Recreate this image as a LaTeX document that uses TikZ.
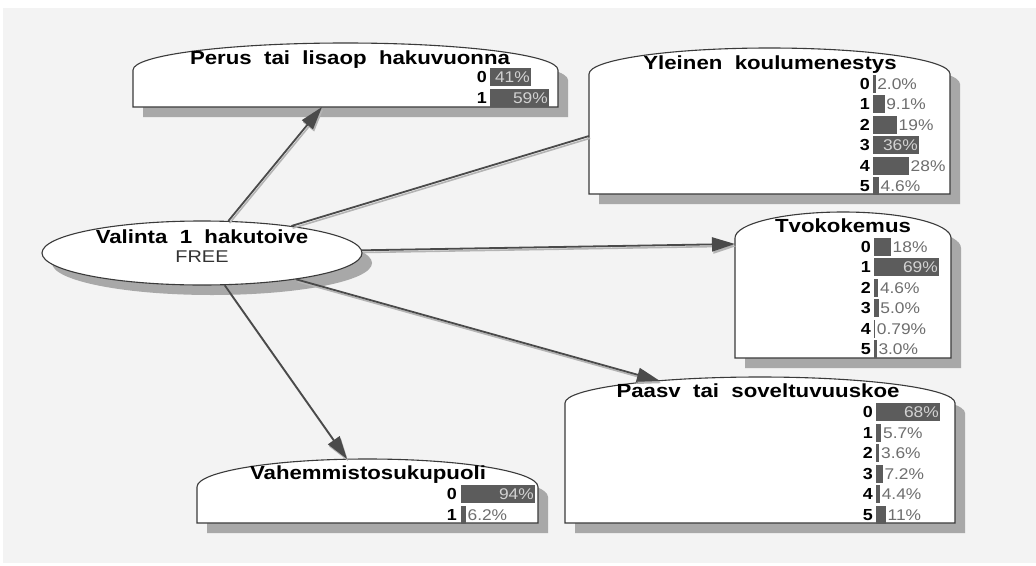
\documentclass[tikz,border=0pt]{standalone}
\usepackage{fontspec}
\setmainfont{Liberation Sans}
\newfontfamily\ttlfont[FakeStretch=1.17, WordSpace=2.0]{Liberation Sans}
\newfontfamily\numfont[FakeStretch=1.12]{Liberation Sans}
\usetikzlibrary{shapes.geometric, arrows.meta}
\definecolor{bgc}{HTML}{F3F3F3}
\definecolor{shc}{HTML}{A8A8A8}
\definecolor{barc}{HTML}{5C5C5C}
\definecolor{edgec}{HTML}{4A4A4A}
\definecolor{edgesh}{HTML}{B4B4B4}
\definecolor{pctin}{HTML}{D2D2D2}
\definecolor{pctout}{HTML}{6E6E6E}
\definecolor{outl}{HTML}{3A3A3A}
\definecolor{freec}{HTML}{333333}
% left, right, sidetop, peak, bottom
\newcommand\bnshape[5]{(#1,-#5) -- (#1,-#3) arc[start angle=180, end angle=0, x radius={(#2-#1)/2}, y radius={#3-#4}] -- (#2,-#5) -- cycle}
\newcommand\bnbox[5]{%
  \fill[shc, shift={(10,-10)}] \bnshape{#1}{#2}{#3}{#4}{#5};
  \draw[outl, line width=1.1pt, fill=white] \bnshape{#1}{#2}{#3}{#4}{#5};}
% digitx, barx, rowcenter y, bar width, digit, pct
\newcommand\prow[6]{%
  \node[digit, anchor=base east] at (#1,-#3-5.5) {#5};
  \fill[barc] (#2,-#3-9) rectangle ++(#4,18);
  \ifdim #4pt>38pt
    \node[pctin, anchor=base east] at (#2+#4-1,-#3-5.5) {#6};
  \else
    \node[pctout, anchor=base west] at (#2+#4+1.5,-#3-5.5) {#6};
  \fi}
\tikzset{
  ttl/.style={inner sep=0pt, anchor=base, font=\ttlfont\bfseries\fontsize{19}{19}\selectfont, text=black},
  digit/.style={inner sep=0pt, font=\numfont\bfseries\fontsize{16}{16}\selectfont, text=black},
  pctin/.style={inner sep=0pt, font=\numfont\fontsize{15.5}{15.5}\selectfont, text=pctin},
  pctout/.style={inner sep=0pt, font=\numfont\fontsize{15.5}{15.5}\selectfont, text=pctout},
  edge/.style={draw=edgec, line width=1.8pt,
    preaction={draw=edgesh, line width=1.6pt, transform canvas={shift={(1.2pt,-2.2pt)}}}},
  arr/.style={-{Triangle[length=23pt, width=14pt]}},
  anchornode/.style={inner sep=0pt, draw=none},
}
\begin{document}
\begin{tikzpicture}[x=1pt, y=1pt]
\useasboundingbox (0,0) rectangle (1036,-565);
\fill[white] (0,0) rectangle (1036,-565);
\fill[bgc] (3,-8) rectangle (1036,-563);

% ---------- boxes ----------
\bnbox{133}{558}{70}{43}{107}
\bnbox{589}{950}{74}{48}{194}
\bnbox{735}{951}{238}{212}{358}
\bnbox{565}{955}{403}{377}{523}
\bnbox{197}{538}{487}{459}{523}

% named node areas
\node[anchornode, minimum width=425pt, minimum height=64pt] (perus) at (345.5,-75) {};
\node[anchornode, minimum width=361pt, minimum height=146pt] (yleinen) at (769.5,-121) {};
\node[anchornode, minimum width=216pt, minimum height=146pt] (tyo) at (843,-285) {};
\node[anchornode, minimum width=390pt, minimum height=146pt] (paasy) at (760,-450) {};
\node[anchornode, minimum width=341pt, minimum height=64pt] (vahe) at (367.5,-491) {};

% ---------- ellipse ----------
\fill[shc] (212,-263) ellipse[x radius=160, y radius=32];
\node[ellipse, draw=outl, line width=1.1pt, fill=white, inner sep=0pt,
      minimum width=320pt, minimum height=64pt] (valinta) at (202,-253) {};
\node[ttl] (valinta-t) at (202,-243) {Valinta 1 hakutoive};
\node[inner sep=0pt, anchor=base, font=\ttlfont\fontsize{17}{17}\selectfont, text=freec] (valinta-f) at (202,-262) {FREE};

% ---------- titles ----------
\node[ttl] (perus-t) at (350,-64) {Perus tai lisaop hakuvuonna};
\node[ttl] (yleinen-t) at (770,-69) {Yleinen koulumenestys};
\node[ttl] (tyo-t) at (843,-232) {Tvokokemus};
\node[ttl] (paasy-t) at (758,-397) {Paasv tai soveltuvuuskoe};
\node[ttl] (vahe-t) at (368,-479) {Vahemmistosukupuoli};

% ---------- rows ----------
\prow{487}{490}{77}{41}{0}{41\%}
\prow{487}{490}{98}{59}{1}{59\%}

\prow{870}{873}{84}{2.6}{0}{2.0\%}
\prow{870}{873}{104}{11.6}{1}{9.1\%}
\prow{870}{873}{125}{24}{2}{19\%}
\prow{870}{873}{145}{46}{3}{36\%}
\prow{870}{873}{166}{36}{4}{28\%}
\prow{870}{873}{186}{6}{5}{4.6\%}

\prow{871}{874}{247}{17}{0}{18\%}
\prow{871}{874}{267}{65}{1}{69\%}
\prow{871}{874}{288}{4.3}{2}{4.6\%}
\prow{871}{874}{308}{4.7}{3}{5.0\%}
\prow{871}{874}{329}{1.2}{4}{0.79\%}
\prow{871}{874}{349}{2.8}{5}{3.0\%}

\prow{873}{876}{412}{64}{0}{68\%}
\prow{873}{876}{433}{5.4}{1}{5.7\%}
\prow{873}{876}{453}{3.4}{2}{3.6\%}
\prow{873}{876}{474}{6.8}{3}{7.2\%}
\prow{873}{876}{494}{4.1}{4}{4.4\%}
\prow{873}{876}{515}{10}{5}{11\%}

\prow{457}{461}{494}{74}{0}{94\%}
\prow{457}{461}{515}{4.9}{1}{6.2\%}

% ---------- connectors ----------
\coordinate (perus-in) at (322,-107);
\coordinate (yleinen-in) at (589,-136);
\coordinate (tyo-in) at (735,-244);
\coordinate (paasy-in) at (660,-381);
\coordinate (vahe-in) at (347,-459);

\draw[edge, arr] (valinta) -- (perus-in);
\draw[edge] (valinta) -- (yleinen-in);
\draw[edge, arr] (valinta) -- (tyo-in);
\draw[edge, arr] (valinta) -- (paasy-in);
\draw[edge, arr] (valinta) -- (vahe-in);
\end{tikzpicture}
\end{document}
